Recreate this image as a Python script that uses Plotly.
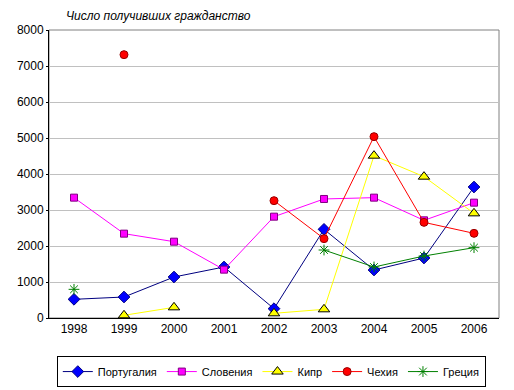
import plotly.graph_objects as go

years = ["1998", "1999", "2000", "2001", "2002", "2003", "2004", "2005", "2006"]
portugal = [519, 583, 1139, 1417, 259, 2463, 1333, 1667, 3639]
slovenia = [3343, 2343, 2120, 1343, 2815, 3306, 3343, 2713, 3204]
cyprus = [None, 75, 296, None, 130, 241, 4509, 3926, 2907]
czech = [None, 7315, None, None, 3259, 2204, 5037, 2657, 2352]
greece = [796, None, None, None, None, 1889, 1417, 1722, 1954]
y_ticks = [0, 1000, 2000, 3000, 4000, 5000, 6000, 7000, 8000]

series = [
    ("Португалия", portugal, "#000080", dict(symbol="diamond", size=9, color="#0000ff", line=dict(color="#000080", width=1))),
    ("Словения", slovenia, "#ff00ff", dict(symbol="square", size=7, color="#ff00ff", line=dict(color="#800080", width=1))),
    ("Кипр", cyprus, "#ffff00", dict(symbol="triangle-up", size=10, color="#ffff00", line=dict(color="#000000", width=1))),
    ("Чехия", czech, "#ff0000", dict(symbol="circle", size=8, color="#ff0000", line=dict(color="#990000", width=1))),
    ("Греция", greece, "#008000", dict(symbol="asterisk-open", size=9, color="#008000", line=dict(color="#008000", width=1))),
]

fig = go.Figure()
for name, vals, lc, mk in series:
    fig.add_trace(go.Scatter(
        x=years, y=vals, name=name, mode="lines+markers",
        line=dict(color=lc, width=1), marker=mk, connectgaps=False,
    ))

# the page body has an 8px default margin, so the figure is sized 8px smaller
fig.update_layout(
    width=506, height=382,
    margin=dict(l=41, r=15, t=22, b=72, autoexpand=False),
    paper_bgcolor="white", plot_bgcolor="white",
    font=dict(family="Liberation Sans, Arial, sans-serif", size=12, color="black"),
    showlegend=True,
    legend=dict(orientation="h", x=0.494, xanchor="center", y=-0.186, yanchor="middle",
                bordercolor="black", borderwidth=1, bgcolor="white",
                font=dict(size=11), itemwidth=30, tracegroupgap=0),
    annotations=[dict(text="<i>Число получивших гражданство</i>", xref="paper", yref="paper",
                      x=0.033, y=1.0, xanchor="left", yanchor="bottom", yshift=5,
                      showarrow=False, font=dict(size=12))],
    shapes=[dict(type="rect", xref="paper", yref="paper", x0=0, y0=0, x1=1, y1=1,
                 line=dict(color="#808080", width=1), layer="below")],
)
fig.update_xaxes(type="category", showgrid=False, showline=True, linecolor="black", linewidth=1,
                 ticks="", tickfont=dict(size=12), range=[-0.5, 8.5])
fig.update_yaxes(range=[0, 8000], tickvals=y_ticks, showgrid=True, gridcolor="#c0c0c0", gridwidth=1,
                 showline=True, linecolor="black", linewidth=1, ticks="outside", ticklen=2,
                 tickcolor="black", zeroline=False, tickfont=dict(size=12))

fig.write_html("out.html")
